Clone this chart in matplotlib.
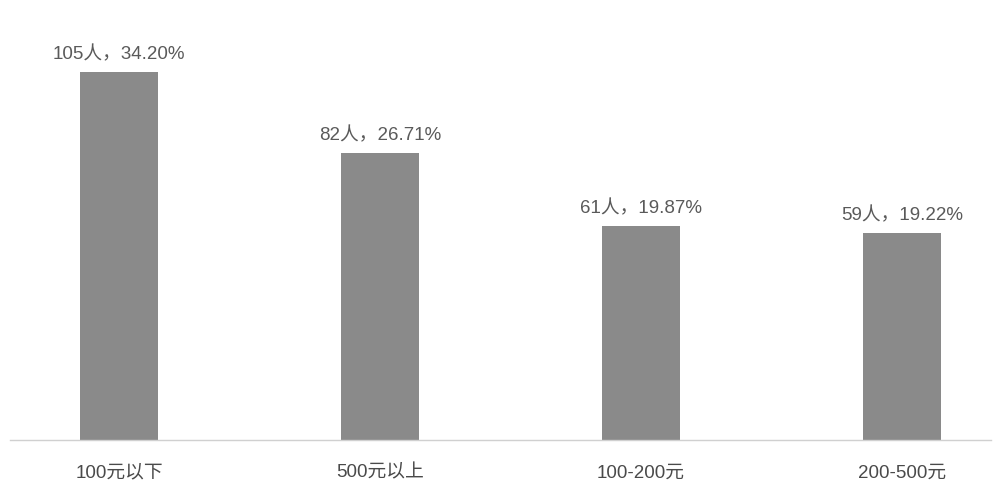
import matplotlib
matplotlib.use("Agg")
import matplotlib.pyplot as plt

plt.rcParams['font.family'] = ['Liberation Sans', 'Noto Sans CJK SC', 'DejaVu Sans']

# 消费区间与人数
categories = ["100元以下", "500元以上", "100-200元", "200-500元"]
counts = [105, 82, 61, 59]
percents = ["34.20%", "26.71%", "19.87%", "19.22%"]

fig = plt.figure(figsize=(10.01, 4.85), dpi=100)
ax = fig.add_axes([0.01, 44 / 485, 0.98, 441 / 485])

x = range(len(categories))
bars = ax.bar(x, counts, width=0.30, color="#8a8a8a", zorder=2)

# 柱顶标注
for rect, n, p in zip(bars, counts, percents):
    ax.annotate(f"{n}人，{p}", (rect.get_x() + rect.get_width() / 2, n),
                xytext=(0, 7), textcoords="offset points",
                ha="center", va="bottom", fontsize=13.5, color="#5a5a5a")

ax.set_xlim(-0.456 + 0.01 * 1001 / 261, 3.379 - 0.01 * 1001 / 261)
ax.set_ylim(0, 125.8)
ax.set_xticks(list(x))
ax.set_xticklabels(categories, fontsize=13.5, color="#4a4a4a")
ax.tick_params(axis="x", length=0, pad=17)
ax.set_yticks([])
for s in ["top", "right", "left"]:
    ax.spines[s].set_visible(False)
ax.spines["bottom"].set_color("#d0d0d0")
ax.spines["bottom"].set_linewidth(1.0)

fig.savefig("out.png", dpi=100)
